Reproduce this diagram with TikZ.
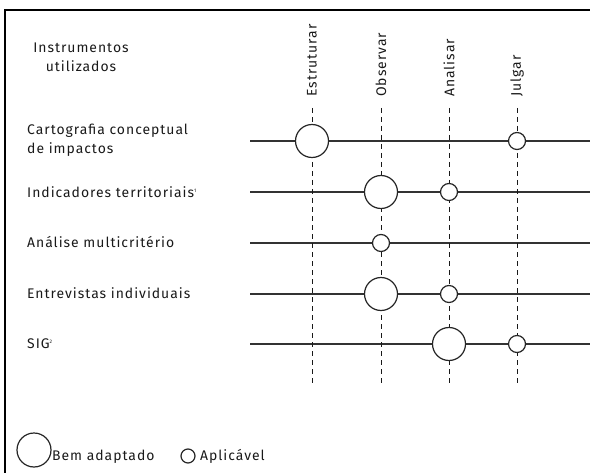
\documentclass[tikz,border=0pt]{standalone}
\usepackage{fontspec}
\setmainfont[LetterSpace=7]{Fira Sans}
\usetikzlibrary{positioning, backgrounds}

\begin{document}
\begin{tikzpicture}[x=1bp, y=-1bp, font=\fontsize{14}{19}\selectfont, text=black!90]
  \tikzstyle{instr}=[anchor=west, align=left, inner sep=0pt];
  \tikzstyle{etapa}=[rotate=90, anchor=west, inner sep=0pt];
  \tikzstyle{bem}=[draw=black!85, circle, fill=white, minimum size=33bp, inner sep=0pt, line width=1.2bp];
  \tikzstyle{aplic}=[draw=black!85, circle, fill=white, minimum size=17bp, inner sep=0pt, line width=1.2bp];
  \tikzstyle{linha}=[draw=black!80, line width=1.2bp];
  \tikzstyle{grelha}=[draw=black!90, dash pattern=on 5bp off 4bp, line width=1bp];

  \useasboundingbox (0,0) rectangle (590,473);
  \draw[line width=1.5bp] (5,473) -- (5,10) -- (590,10);

  % titulo e etapas
  \node[align=center, inner sep=0pt] (titulo) at (81,57) {Instrumentos\\utilizados};
  \node[etapa] (estruturar) at (312,97) {Estruturar};
  \node[etapa] (observar) at (381,97) {Observar};
  \node[etapa] (analisar) at (449,97) {Analisar};
  \node[etapa] (julgar) at (517,97) {Julgar};

  \coordinate (estruturar-a) at (312,108);
  \coordinate (estruturar-b) at (312,385);
  \coordinate (observar-a) at (381,108);
  \coordinate (observar-b) at (381,385);
  \coordinate (analisar-a) at (449,108);
  \coordinate (analisar-b) at (449,385);
  \coordinate (julgar-a) at (517,108);
  \coordinate (julgar-b) at (517,385);

  % instrumentos
  \node[instr] (cartografia) at (27,140) {Cartografia conceptual\\de impactos};
  \node[instr] (indicadores) at (27,192) {Indicadores territoriais\textsuperscript{\tiny 1}};
  \node[instr] (multicriterio) at (27,242) {Análise multicritério};
  \node[instr] (entrevistas) at (27,293) {Entrevistas individuais};
  \node[instr] (sig) at (27,344) {SIG\textsuperscript{\tiny 2}};

  \coordinate (cartografia-a) at (250,141);
  \coordinate (cartografia-b) at (590,141);
  \coordinate (indicadores-a) at (250,192);
  \coordinate (indicadores-b) at (590,192);
  \coordinate (multicriterio-a) at (250,243);
  \coordinate (multicriterio-b) at (590,243);
  \coordinate (entrevistas-a) at (250,294);
  \coordinate (entrevistas-b) at (590,294);
  \coordinate (sig-a) at (250,344);
  \coordinate (sig-b) at (590,344);

  \begin{pgfonlayer}{background}
    \draw[linha] (cartografia-a) -- (cartografia-b);
    \draw[linha] (indicadores-a) -- (indicadores-b);
    \draw[linha] (multicriterio-a) -- (multicriterio-b);
    \draw[linha] (entrevistas-a) -- (entrevistas-b);
    \draw[linha] (sig-a) -- (sig-b);
    \draw[grelha] (estruturar-a) -- (estruturar-b);
    \draw[grelha] (observar-a) -- (observar-b);
    \draw[grelha] (analisar-a) -- (analisar-b);
    \draw[grelha] (julgar-a) -- (julgar-b);
  \end{pgfonlayer}

  % adequacao
  \node[bem] (cartografia-est) at (estruturar-a |- cartografia-a) {};
  \node[aplic] (cartografia-jul) at (julgar-a |- cartografia-a) {};
  \node[bem] (indicadores-obs) at (observar-a |- indicadores-a) {};
  \node[aplic] (indicadores-ana) at (analisar-a |- indicadores-a) {};
  \node[aplic] (multicriterio-obs) at (observar-a |- multicriterio-a) {};
  \node[bem] (entrevistas-obs) at (observar-a |- entrevistas-a) {};
  \node[aplic] (entrevistas-ana) at (analisar-a |- entrevistas-a) {};
  \node[bem] (sig-ana) at (analisar-a |- sig-a) {};
  \node[aplic] (sig-jul) at (julgar-a |- sig-a) {};

  % legenda
  \node[bem, minimum size=34bp] (legbem) at (34,450) {};
  \node[anchor=west, inner sep=0pt] (legbemtxt) at (52,457) {Bem adaptado};
  \node[aplic, minimum size=14bp] (legapl) at (188,456) {};
  \node[anchor=west, inner sep=0pt] (legapltxt) at (200,456) {Aplicável};
\end{tikzpicture}
\end{document}
